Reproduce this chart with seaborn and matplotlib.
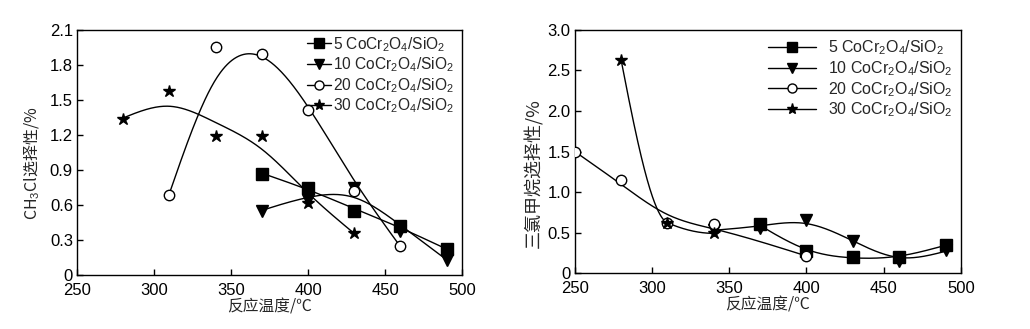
import numpy as np
import matplotlib
matplotlib.use("Agg")
import matplotlib.pyplot as plt
from matplotlib.lines import Line2D
from matplotlib.ticker import FuncFormatter, MultipleLocator
import seaborn as sns
import pandas as pd

# ---------------- data ----------------
series_labels = [r"5 CoCr$_2$O$_4$/SiO$_2$", r"10 CoCr$_2$O$_4$/SiO$_2$",
                 r"20 CoCr$_2$O$_4$/SiO$_2$", r"30 CoCr$_2$O$_4$/SiO$_2$"]

# left: CH3Cl selectivity
l5_t = [370, 400, 430, 460, 490]
l5_v = [0.87, 0.75, 0.55, 0.42, 0.22]
l10_t = [370, 400, 430, 460, 490]
l10_v = [0.55, 0.64, 0.75, 0.38, 0.13]
l20_t = [310, 340, 370, 400, 430, 460]
l20_v = [0.69, 1.95, 1.89, 1.41, 0.72, 0.25]
l30_t = [280, 310, 340, 370, 400, 430]
l30_v = [1.34, 1.58, 1.19, 1.19, 0.62, 0.36]

# right: CHCl3 selectivity
r5_t = [370, 400, 430, 460, 490]
r5_v = [0.60, 0.27, 0.20, 0.20, 0.35]
r10_t = [340, 370, 400, 430, 460, 490]
r10_v = [0.53, 0.56, 0.65, 0.40, 0.15, 0.29]
r20_t = [250, 280, 310, 340, 400]
r20_v = [1.50, 1.15, 0.62, 0.60, 0.21]
r30_t = [280, 310, 340]
r30_v = [2.63, 0.62, 0.49]

xlabel = "反应温度/℃"
ylabel_left = r"CH$_3$Cl选择性/%"
ylabel_right = "三氯甲烷选择性/%"


def smooth_spline(x, y, lam, xs, w=None):
    x = (np.asarray(x, float) - 250) / 30.0
    y = np.asarray(y, float)
    u = (np.asarray(xs, float) - 250) / 30.0
    n = len(x)
    h = np.diff(x)
    W = np.diag(np.ones(n) if w is None else np.asarray(w, float))
    Q = np.zeros((n, n - 2))
    R = np.zeros((n - 2, n - 2))
    for j in range(1, n - 1):
        Q[j - 1, j - 1] = 1 / h[j - 1]
        Q[j, j - 1] = -1 / h[j - 1] - 1 / h[j]
        Q[j + 1, j - 1] = 1 / h[j]
        R[j - 1, j - 1] = (h[j - 1] + h[j]) / 3
        if j < n - 2:
            R[j - 1, j] = R[j, j - 1] = h[j] / 6
    A = W + lam * Q @ np.linalg.solve(R, Q.T)
    g = np.linalg.solve(A, W @ y)
    gamma = np.linalg.solve(R, Q.T @ g)
    M = np.concatenate([[0.0], gamma, [0.0]])
    i = np.clip(np.searchsorted(x, u) - 1, 0, n - 2)
    hi = h[i]
    t0 = u - x[i]
    t1 = x[i + 1] - u
    return ((M[i] * t1 ** 3 + M[i + 1] * t0 ** 3) / (6 * hi)
            + (g[i] / hi - M[i] * hi / 6) * t1
            + (g[i + 1] / hi - M[i + 1] * hi / 6) * t0)


def pchip(x, y, xs):
    x = np.asarray(x, float)
    y = np.asarray(y, float)
    h = np.diff(x)
    d = np.diff(y) / h
    n = len(x)
    m = np.zeros(n)
    for k in range(1, n - 1):
        if d[k - 1] * d[k] > 0:
            w1 = 2 * h[k] + h[k - 1]
            w2 = h[k] + 2 * h[k - 1]
            m[k] = (w1 + w2) / (w1 / d[k - 1] + w2 / d[k])
    m[0] = ((2 * h[0] + h[1]) * d[0] - h[0] * d[1]) / (h[0] + h[1])
    if np.sign(m[0]) != np.sign(d[0]):
        m[0] = 0
    m[-1] = ((2 * h[-1] + h[-2]) * d[-1] - h[-1] * d[-2]) / (h[-1] + h[-2])
    if np.sign(m[-1]) != np.sign(d[-1]):
        m[-1] = 0
    i = np.clip(np.searchsorted(x, xs) - 1, 0, n - 2)
    t = (xs - x[i]) / h[i]
    h00 = 2 * t ** 3 - 3 * t ** 2 + 1
    h10 = t ** 3 - 2 * t ** 2 + t
    h01 = -2 * t ** 3 + 3 * t ** 2
    h11 = t ** 3 - t ** 2
    return h00 * y[i] + h10 * h[i] * m[i] + h01 * y[i + 1] + h11 * h[i] * m[i + 1]


sns.set_theme(style="ticks")
plt.rcParams["font.family"] = ["Liberation Sans", "Noto Sans CJK SC", "DejaVu Sans"]
plt.rcParams["mathtext.fontset"] = "custom"
plt.rcParams["mathtext.rm"] = "Liberation Sans"
plt.rcParams["mathtext.it"] = "Liberation Sans"

fig = plt.figure(figsize=(10.3, 3.29), dpi=100)
axL = fig.add_axes([0.0748, 0.164, 0.3738, 0.745])
axR = fig.add_axes([0.558, 0.170, 0.375, 0.739])

markers = ["s", "v", "o", "*"]
msizes = [8, 8, 7.5, 9]
faces = ["black", "black", "white", "black"]


def draw(ax, data, specs):
    for k, ((t, v), spec) in enumerate(zip(data, specs)):
        xs = np.linspace(min(t), max(t), 300)
        if spec is None:
            ys = pchip(t, v, xs)
        else:
            lam, w = spec
            ys = smooth_spline(t, v, lam, xs, w)
        sns.lineplot(x=xs, y=ys, ax=ax, color="black", lw=1.0, sort=False,
                     estimator=None)
        df = pd.DataFrame({"t": t, "v": v})
        ax.plot(df["t"], df["v"], ls="none", marker=markers[k], ms=msizes[k],
                mfc=faces[k], mec="black", mew=1.0, zorder=5)


draw(axL, [(l5_t, l5_v), (l10_t, l10_v), (l20_t, l20_v), (l30_t, l30_v)],
     [(0.3, [3, 1, 1, 1, 3]), (0.15, [3, 1, 1, 1, 3]),
      (0.2, [20, 1, 1, 1, 1, 4]), (0.18, [10, 1, 1, 1, 1, 5])])
draw(axR, [(r5_t, r5_v), (r10_t, r10_v), (r20_t, r20_v), (r30_t, r30_v)],
     [(0.05, None), (0.05, None), (0.15, [10, 1, 1, 1, 5]), None])


def fmt(v, pos):
    return "0" if abs(v) < 1e-9 else f"{v:.1f}"


for ax, ymax, ystep, ylab, yfs, lx, ly in [(axL, 2.1, 0.3, ylabel_left, 11.5, -0.09, 0.455),
                                           (axR, 3.0, 0.5, ylabel_right, 13.0, -0.082, 0.41)]:
    ax.set_xlim(250, 500)
    ax.set_ylim(0, ymax)
    ax.xaxis.set_major_locator(MultipleLocator(50))
    ax.yaxis.set_major_locator(MultipleLocator(ystep))
    ax.yaxis.set_major_formatter(FuncFormatter(fmt))
    ax.tick_params(direction="in", length=4, width=1, labelsize=12,
                   colors="black", pad=3)
    ax.tick_params(axis="x", pad=6)
    for sp in ax.spines.values():
        sp.set_visible(True)
        sp.set_color("black")
        sp.set_linewidth(1.0)
    ax.set_xlabel(xlabel, fontsize=11.3, family=["Noto Sans CJK SC"], labelpad=0)
    ax.set_ylabel(ylab, fontsize=yfs, family=["Noto Sans CJK SC"])
    ax.yaxis.set_label_coords(lx, ly)
    ax.set_facecolor("white")


def handles():
    return [Line2D([0], [0], color="black", lw=1.0, marker=markers[k], ms=msizes[k] - 1,
                   mfc=faces[k], mec="black") for k in range(4)]


axL.legend(handles(), series_labels, loc="upper right", frameon=False,
           handlelength=1.6, handletextpad=0.1, labelspacing=0.12,
           fontsize=11.2, borderaxespad=0.0, bbox_to_anchor=(0.995, 1.005))
axR.legend(handles(), series_labels, loc="upper right", frameon=False,
           handlelength=3.0, handletextpad=0.8, labelspacing=0.12,
           fontsize=11.5, borderaxespad=0.0, bbox_to_anchor=(0.996, 0.99))

fig.savefig("out.png", dpi=100, facecolor="white")
